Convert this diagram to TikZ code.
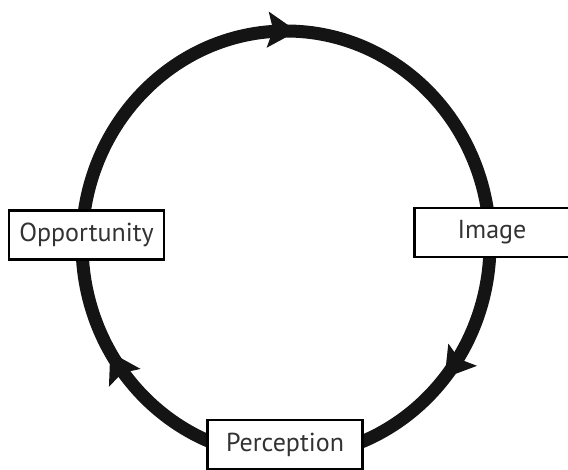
\documentclass[tikz,border=0pt]{standalone}
\usepackage{fontspec}
\setmainfont{PT Sans}
\usetikzlibrary{arrows.meta,decorations.markings}
\begin{document}
\begin{tikzpicture}[x=1pt,y=1pt,
  cyc/.style={line width=13pt,black!92},
  lbl/.style={draw=black,line width=2.2pt,fill=white,minimum width=155pt,minimum height=49pt,inner sep=0pt,font=\fontsize{26pt}{30pt}\selectfont,text=black!80},
  midarrow/.style={postaction={decorate},decoration={markings,mark=at position #1 with {\arrow{Stealth[length=29pt,width=35pt,inset=5pt]}}}}
]
\useasboundingbox (0,0) rectangle (568,470);
\coordinate (c) at (286,226);
\coordinate (w) at (82,226);
\coordinate (e) at (490,226);
\coordinate (s) at (286,13);
\draw[cyc,midarrow=0.517] (w) arc[start angle=180,end angle=0,x radius=204,y radius=213];
\draw[cyc,midarrow=0.44] (e) arc[start angle=0,end angle=-90,x radius=204,y radius=213];
\draw[cyc,midarrow=0.655] (s) arc[start angle=-90,end angle=-180,x radius=204,y radius=213];
\node[lbl] (opp) at (86.5,235) {Opportunity};
\node[lbl] (img) at (492,237.5) {Image};
\node[lbl] (per) at (285,25.5) {Perception};
\end{tikzpicture}
\end{document}
